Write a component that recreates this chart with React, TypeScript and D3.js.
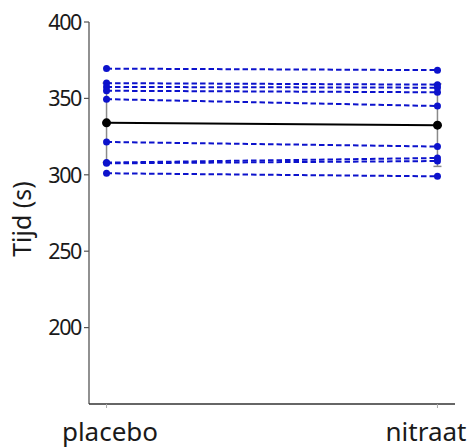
import * as d3 from "d3";

const conditions = ["placebo", "nitraat"];
// individual participants: [placebo, nitraat]
const placebo = [369.5, 360, 357.5, 355, 349.5, 321.5, 308, 307.5, 301];
const nitraat = [368.5, 359, 357, 354, 345, 318.5, 311, 309, 299];
const means = [334, 332.5];
const sds = [26, 27];
const yTicks = [200, 250, 300, 350, 400];

const W = 471;
const H = 448;
const margin = {left: 89, right: 16, top: 22, bottom: 44};

export default function App() {
	const x = d3
		.scalePoint<string>()
		.domain(conditions)
		.range([margin.left, W - margin.right])
		.padding(0.053);
	const y = d3.scaleLinear().domain([150, 400]).range([H - margin.bottom, margin.top]);

	const line = d3
		.line<number>()
		.x((_, i) => x(conditions[i])!)
		.y((d) => y(d));

	const pairs = placebo.map((p, i) => [p, nitraat[i]]);
	const blue = "#0c12cc";
	const y0 = H - margin.bottom;

	return (
		<svg
			width={W}
			height={H}
			style={{position: "absolute", left: 0, top: 0, background: "#fff"}}
			fontFamily="'Noto Sans', sans-serif"
		>
			{/* error bars */}
			{conditions.map((c, i) => {
				const cx = x(c)!;
				const top = y(means[i] + sds[i]);
				const bot = y(means[i] - sds[i]);
				return (
					<g key={"eb" + c} stroke="#8a8a8a" strokeWidth={1.5}>
						<line x1={cx} x2={cx} y1={top} y2={bot} />
						<line x1={cx - 4} x2={cx + 4} y1={top} y2={top} />
						<line x1={cx - 4} x2={cx + 4} y1={bot} y2={bot} />
					</g>
				);
			})}
			{/* participants */}
			{pairs.map((p, i) => (
				<g key={"p" + i}>
					<path d={line(p)!} fill="none" stroke={blue} strokeWidth={2} strokeDasharray="5.5,3" />
					{p.map((v, j) => (
						<circle key={j} cx={x(conditions[j])} cy={y(v)} r={3.5} fill={blue} />
					))}
				</g>
			))}
			{/* mean */}
			<path d={line(means)!} fill="none" stroke="#000" strokeWidth={2} />
			{means.map((v, j) => (
				<circle key={"m" + j} cx={x(conditions[j])} cy={y(v)} r={4.5} fill="#000" />
			))}
			{/* y axis */}
			<line x1={margin.left} x2={margin.left} y1={margin.top} y2={y0} stroke="#555" strokeWidth={1.3} />
			{yTicks.map((t) => (
				<g key={t} transform={`translate(${margin.left},${y(t)})`}>
					<line x1={-5} x2={0} stroke="#555" strokeWidth={1.2} />
					<text x={-8} dy="0.36em" textAnchor="end" fontSize={21.5} fill="#1a1a1a" letterSpacing={-1.4}>
						{t}
					</text>
				</g>
			))}
			{/* x axis */}
			<line x1={margin.left} x2={W - margin.right} y1={y0} y2={y0} stroke="#333" strokeWidth={1.3} />
			{conditions.map((c) => (
				<line key={"xt" + c} x1={x(c)} x2={x(c)} y1={y0} y2={y0 + 4} stroke="#aaa" strokeWidth={1} />
			))}
			<text x={110} y={441} textAnchor="middle" fontSize={26} fill="#1a1a1a">
				{conditions[0]}
			</text>
			<text x={426} y={441} textAnchor="middle" fontSize={26} fill="#1a1a1a">
				{conditions[1]}
			</text>
			<text
				transform={`translate(31,219) rotate(-90)`}
				textAnchor="middle"
				fontSize={25}
				fill="#1a1a1a"
			>
				Tijd (s)
			</text>
		</svg>
	);
}
